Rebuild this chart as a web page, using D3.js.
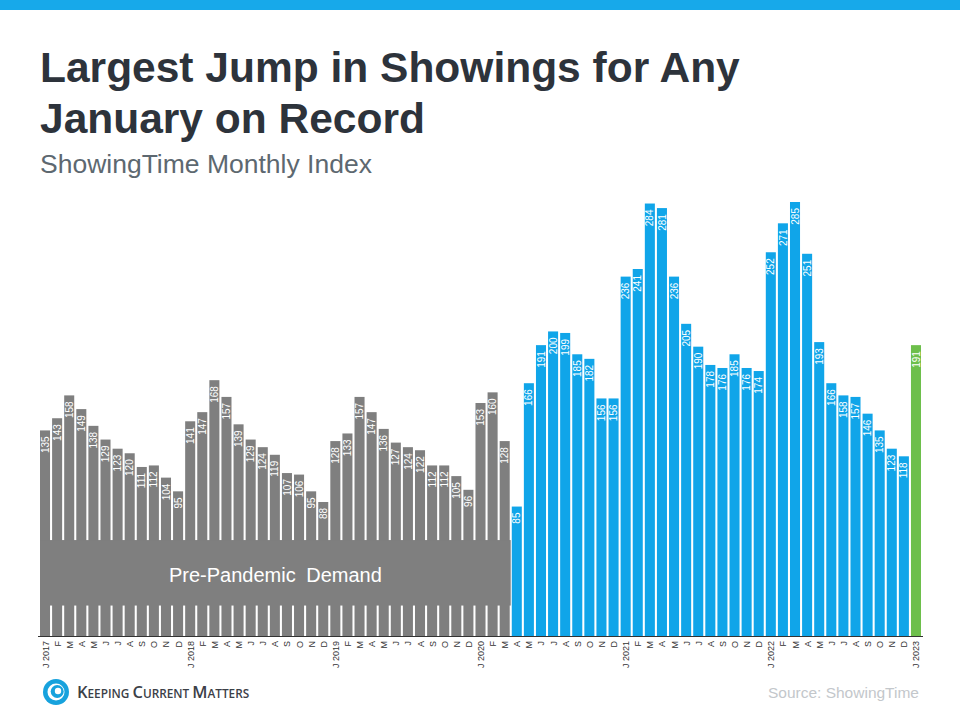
<!DOCTYPE html>
<html>
<head>
<meta charset="utf-8">
<script src="https://cdn.jsdelivr.net/npm/d3@7"></script>
<style>
  html, body { margin: 0; padding: 0; background: #fff; }
  svg { display: block; }
</style>
</head>
<body>
<svg id="chart" width="960" height="720"></svg>
<script>
// ---- data ----
const months = ["J 2017","F","M","A","M","J","J","A","S","O","N","D",
                "J 2018","F","M","A","M","J","J","A","S","O","N","D",
                "J 2019","F","M","A","M","J","J","A","S","O","N","D",
                "J 2020","F","M","A","M","J","J","A","S","O","N","D",
                "J 2021","F","M","A","M","J","J","A","S","O","N","D",
                "J 2022","F","M","A","M","J","J","A","S","O","N","D",
                "J 2023"];
const values = [135,143,158,149,138,129,123,120,111,112,104,95,
                141,147,168,157,139,129,124,119,107,106,95,88,
                128,133,157,147,136,127,124,122,112,112,105,96,
                153,160,128,85,166,191,200,199,185,182,156,156,
                236,241,284,281,236,205,190,178,176,185,176,174,
                252,271,285,251,193,166,158,157,146,135,123,118,
                191];
const periods = values.map((v, i) => i < 39 ? "pre" : (i === values.length - 1 ? "latest" : "pandemic"));
const periodColors = { pre: "#7f7f7f", pandemic: "#10a5e9", latest: "#6dbf4b" };

const title = ["Largest Jump in Showings for Any", "January on Record"];
const subtitle = "ShowingTime Monthly Index";
const overlayLabel = "Pre-Pandemic Demand";
const source = "Source: ShowingTime";

// ---- drawing ----
const svg = d3.select("#chart");
const W = 960;

svg.append("rect").attr("x", 0).attr("y", 0).attr("width", W).attr("height", 10).attr("fill", "#17a9ea");

svg.append("text").attr("x", 40).attr("y", 82)
  .attr("font-family", "Liberation Sans, Arial, sans-serif").attr("font-weight", "bold")
  .attr("font-size", 42.5).attr("fill", "#2d333b")
  .selectAll("tspan").data(title).join("tspan")
  .attr("x", 40).attr("dy", (d, i) => i === 0 ? 0 : 51).text(d => d);

svg.append("text").attr("x", 40).attr("y", 173)
  .attr("font-family", "Liberation Sans, Arial, sans-serif")
  .attr("font-size", 26.5).attr("fill", "#5d6870").text(subtitle);

const x = d3.scaleBand().domain(d3.range(values.length)).range([40, 921]).paddingInner(0.17).paddingOuter(0);
const y = d3.scaleLinear().domain([0, 285]).range([636, 202]);

const g = svg.append("g");
g.selectAll("rect.bar").data(values).join("rect").attr("class", "bar")
  .attr("x", (d, i) => x(i)).attr("width", x.bandwidth())
  .attr("y", d => y(d)).attr("height", d => y(0) - y(d))
  .attr("fill", (d, i) => periodColors[periods[i]]);

g.selectAll("text.val").data(values).join("text").attr("class", "val")
  .attr("transform", (d, i) => `translate(${x(i) + x.bandwidth() / 2 + 3.6},${y(d) + 6}) rotate(-90)`)
  .attr("text-anchor", "end")
  .attr("font-family", "Liberation Sans, Arial, sans-serif").attr("font-size", 10)
  .attr("fill", "#fff").text(d => d);

// pre-pandemic overlay box
const preCount = periods.filter(p => p === "pre").length;
const boxX0 = x(0), boxX1 = x(preCount - 1) + x.bandwidth() + 1;
svg.append("rect").attr("x", boxX0).attr("y", y(63)).attr("width", boxX1 - boxX0)
  .attr("height", y(20) - y(63)).attr("fill", periodColors.pre);
svg.append("text").attr("x", (boxX0 + boxX1) / 2).attr("y", 582)
  .attr("text-anchor", "middle").attr("font-family", "Liberation Sans, Arial, sans-serif")
  .attr("font-size", 20).attr("word-spacing", 5).attr("fill", "#fff").text(overlayLabel);

// axis
const axis = d3.axisBottom(x).tickSize(0).tickFormat(i => months[i]);
const ax = svg.append("g").attr("transform", `translate(0,${y(0)})`).call(axis);
ax.select(".domain").attr("stroke", "#333").attr("d", `M38,0.5H923`);
ax.selectAll(".tick text")
  .attr("font-family", "Liberation Sans, Arial, sans-serif").attr("font-size", 9).attr("fill", "#333")
  .attr("text-anchor", "end").attr("dy", null).attr("y", 0)
  .attr("transform", "translate(3.5,5) rotate(-90)");

// logo
const logo = svg.append("g").attr("transform", "translate(56,692)");
logo.append("circle").attr("r", 13).attr("fill", "#17a2dd");
logo.append("circle").attr("r", 8.5).attr("fill", "#fff");
logo.append("circle").attr("cx", 1.2).attr("cy", -0.5).attr("r", 6.5).attr("fill", "#17a2dd");
logo.append("circle").attr("cx", 2).attr("cy", -1).attr("r", 3.2).attr("fill", "#fff");
const lt = svg.append("text").attr("x", 77).attr("y", 698)
  .attr("font-family", "Open Sans, DejaVu Sans, sans-serif").attr("font-weight", "600").attr("fill", "#3b4047");
[["K",16.5],["EEPING ",11.8],["C",16.5],["URRENT ",11.8],["M",16.5],["ATTERS",11.8]].forEach(([t, s]) => {
  lt.append("tspan").attr("font-size", s).text(t);
});

svg.append("text").attr("x", 919).attr("y", 698).attr("text-anchor", "end")
  .attr("font-family", "Liberation Sans, Arial, sans-serif").attr("font-size", 15.5)
  .attr("fill", "#c3c7cb").text(source);
</script>
</body>
</html>
